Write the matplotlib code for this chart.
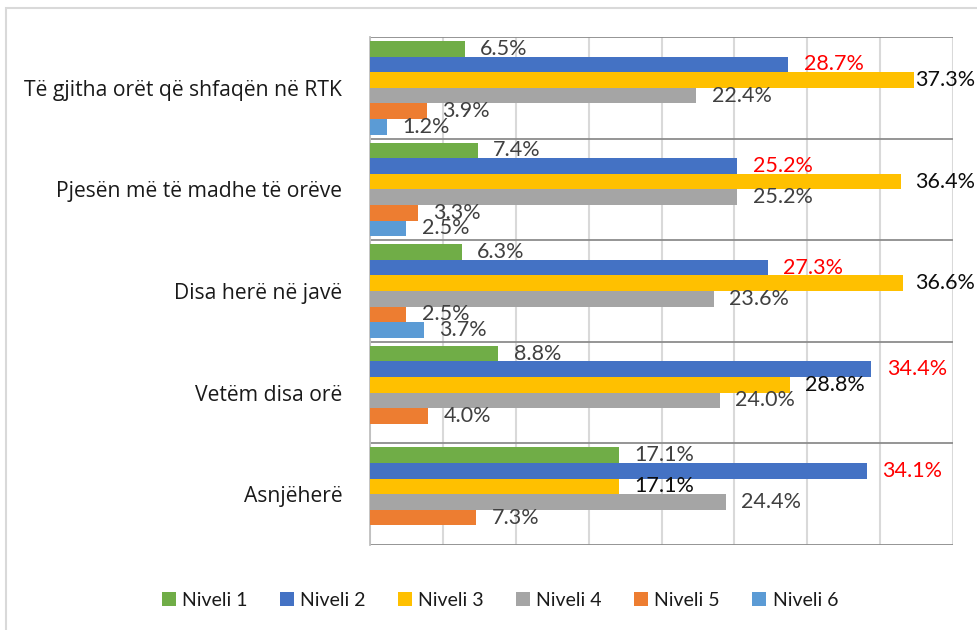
import numpy as np
import matplotlib
matplotlib.use("Agg")
import matplotlib.pyplot as plt
from matplotlib.patches import Rectangle, Patch

plt.rcParams['font.family'] = ['Lato', 'DejaVu Sans']

categories = ["Të gjitha orët që shfaqën në RTK", "Pjesën më të madhe të orëve",
              "Disa herë në javë", "Vetëm disa orë", "Asnjëherë"]
series_names = ["Niveli 1", "Niveli 2", "Niveli 3", "Niveli 4", "Niveli 5", "Niveli 6"]
niveli1 = [6.5, 7.4, 6.3, 8.8, 17.1]
niveli2 = [28.7, 25.2, 27.3, 34.4, 34.1]
niveli3 = [37.3, 36.4, 36.6, 28.8, 17.1]
niveli4 = [22.4, 25.2, 23.6, 24.0, 24.4]
niveli5 = [3.9, 3.3, 2.5, 4.0, 7.3]
niveli6 = [1.2, 2.5, 3.7, np.nan, np.nan]
series = [niveli1, niveli2, niveli3, niveli4, niveli5, niveli6]

colors = ["#70AD47", "#4472C4", "#FFC000", "#A5A5A5", "#ED7D31", "#5B9BD5"]
label_colors = ["#404040", "#FF0000", "#0d0d0d", "#404040", "#404040", "#404040"]

W, H = 977, 630
fig = plt.figure(figsize=(W / 100, H / 100), dpi=100)
ax = fig.add_axes([370 / W, 85 / H, 583 / W, 508 / H])

n = len(series)
bh = 0.1533
texts = []
for j, vals in enumerate(series):
    ys = np.arange(len(categories)) + 0.5 + (j - (n - 1) / 2) * bh
    v = np.array(vals, dtype=float)
    ax.barh(ys, np.nan_to_num(v), height=bh, color=colors[j], zorder=3)
    for y, val in zip(ys, v):
        if np.isnan(val):
            continue
        t = ax.annotate(f"{val:.1f}%", xy=(val, y), xytext=(11, 0), textcoords="offset points",
                        ha="left", va="center", fontsize=15.5, color=label_colors[j],
                        annotation_clip=False, zorder=4)
        texts.append(t)

ax.set_xlim(0, 40)
ax.set_ylim(len(categories), 0)
ax.set_xticks(np.arange(0, 41, 5))
ax.tick_params(axis='x', length=0, labelbottom=False)
ax.grid(axis='x', color="#d9d9d9", linewidth=1.5, zorder=0)
ax.set_yticks(np.arange(len(categories)) + 0.5)
ax.set_yticklabels(categories, fontsize=15.2, color="#1a1a1a", family=['Open Sans', 'DejaVu Sans'])
ax.tick_params(axis='y', length=0, pad=20)
for yb in range(len(categories) + 1):
    ax.axhline(yb, color="#8c8c8c", linewidth=1.3, zorder=2)
for s in ["top", "bottom", "right"]:
    ax.spines[s].set_visible(False)
ax.spines["left"].set_color("#bfbfbf")
ax.spines["left"].set_linewidth(1.3)

handles = [Patch(facecolor=c, edgecolor="none") for c in colors]
fig.legend(handles, series_names, loc="center", bbox_to_anchor=(500 / W, 30 / H), ncol=6,
           frameon=False, fontsize=14, handlelength=0.7, handleheight=0.7,
           handletextpad=0.35, columnspacing=1.65, labelcolor="#1a1a1a")

fig.patches.append(Rectangle((6 / W, -0.02), 1.0, 1 - 8 / H + 0.02, transform=fig.transFigure,
                             fill=False, edgecolor="#d9d9d9", linewidth=1.5))

# keep labels inside the figure (as the original does for the longest bar)
fig.canvas.draw()
r = fig.canvas.get_renderer()
for t in texts:
    bb = t.get_window_extent(r)
    over = bb.x1 - (W - 2)
    if over > 0:
        ox, oy = t.xyann
        t.xyann = (ox - over * 72 / 100, oy)

fig.savefig("out.png", dpi=100)
